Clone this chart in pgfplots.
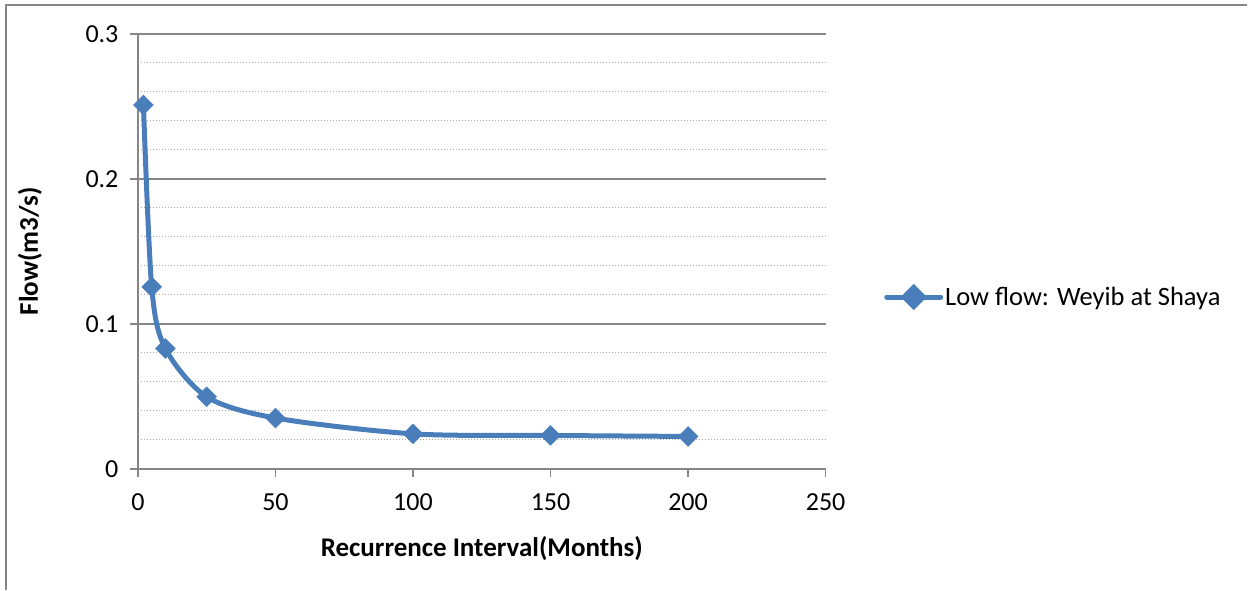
\documentclass[border=0pt]{standalone}
\usepackage{pgfplots}
\pgfplotsset{compat=1.18}
\usepackage{fontspec}
\setmainfont{Carlito}

\definecolor{serieblue}{HTML}{4A7EBB}
\definecolor{gridgray}{HTML}{868686}

\begin{document}
\begin{tikzpicture}[x=1pt,y=1pt]
  % page frame (1 unit = 1 px of the final image)
  \path (0,0) rectangle (1248,590);
  \draw[gridgray, line width=1.2pt] (6,0) -- (6,585) -- (1248,585);

  \begin{axis}[
    at={(138pt,121pt)}, anchor=south west,
    scale only axis, width=688pt, height=435pt,
    xmin=0, xmax=250, ymin=0, ymax=0.3,
    xtick={0,50,...,250}, ytick={0,0.1,0.2,0.3},
    minor y tick num=4,
    axis x line*=bottom, axis y line*=left,
    axis line style={gridgray, line width=1.5pt, -},
    ymajorgrids, yminorgrids,
    major grid style={gridgray, line width=1.5pt},
    minor grid style={gridgray!70, line width=1pt, dotted},
    tick style={gridgray, line width=1.5pt},
    major tick length=8pt, minor tick length=0pt,
    tick align=outside,
    xtick pos=bottom, ytick pos=left,
    every tick label/.append style={font=\fontsize{26}{30}\selectfont, text=black},
    /pgf/number format/assume math mode=true,
    yticklabel style={/pgf/number format/fixed, xshift=-8pt},
    xticklabel style={yshift=-13pt},
    every axis x label/.style={at={(axis description cs:0.5,0)}, anchor=center, yshift=-80pt},
    every axis y label/.style={at={([xshift=-108pt]axis description cs:0,0.5)}, anchor=center, rotate=90},
    xlabel={\textbf{Recurrence Interval(Months)}},
    ylabel={\textbf{Flow(m3/s)}},
    label style={font=\fontsize{27}{31}\selectfont},
    legend style={at={(1.085,0.395)}, anchor=west, draw=none, fill=none,
      font=\fontsize{26.5}{30}\selectfont, inner sep=0pt},
    legend cell align=left,
    legend image code/.code={
      \draw[serieblue, line width=5pt, line cap=round] (0pt,0pt) -- (54pt,0pt);
      \fill[serieblue] (27pt,0pt) ++(0,-9.5pt) -- ++(9.5pt,9.5pt) -- ++(-9.5pt,9.5pt) -- ++(-9.5pt,-9.5pt) -- cycle;
    },
    clip=false,
  ]
    \addplot[serieblue, line width=5pt, smooth,
      mark=square*, mark size=7pt,
      mark options={rotate=45, fill=serieblue, draw=serieblue, line width=0.5pt}]
      coordinates {
        (2,0.251) (5,0.1255) (10,0.083) (25,0.0497)
        (50,0.035) (100,0.0241) (150,0.0230) (200,0.0223)
      };
    \addlegendentry{Low flow: Weyib at Shaya}
  \end{axis}
\end{tikzpicture}
\end{document}
